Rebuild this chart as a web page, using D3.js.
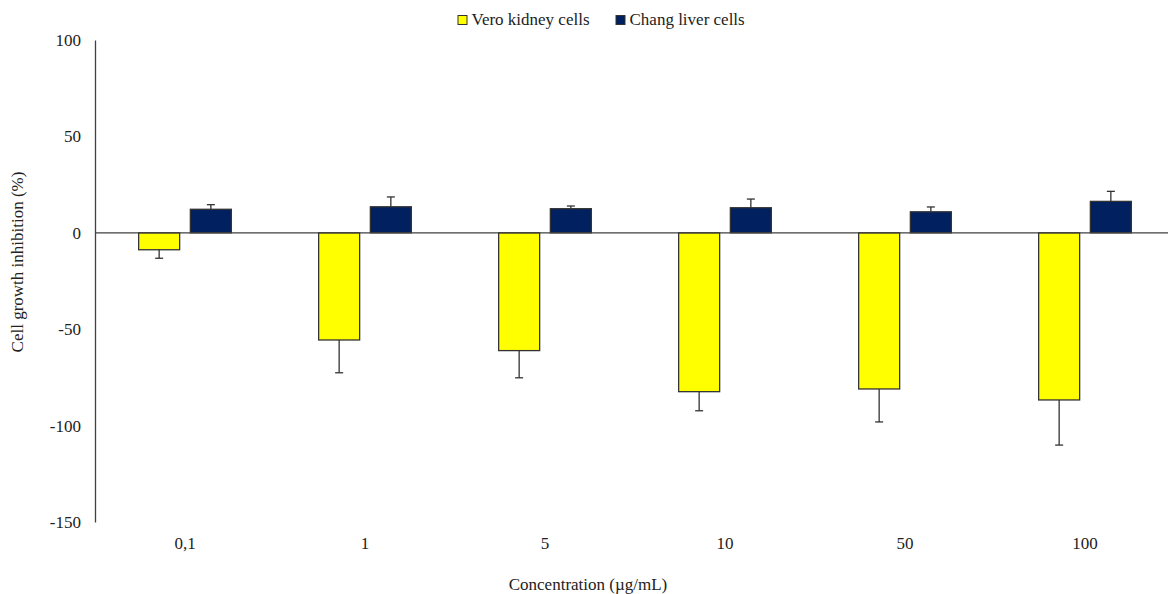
<!DOCTYPE html>
<html>
<head>
<meta charset="utf-8">
<script src="https://cdn.jsdelivr.net/npm/d3@7"></script>
<style>
  html, body { margin: 0; padding: 0; background: #fff; }
  svg { display: block; }
  svg text { font-family: "Liberation Serif", "Times New Roman", "DejaVu Serif", serif !important; fill: #222; }
</style>
</head>
<body>
<svg id="chart" width="1168" height="594"></svg>
<script>
const categories = ["0,1", "1", "5", "10", "50", "100"];
const seriesNames = ["Vero kidney cells", "Chang liver cells"];
const veroValues = [-8.8, -55.6, -61.1, -82.4, -81.0, -86.7];
const veroErrors = [4.4, 17.0, 14.1, 9.9, 17.1, 23.4];
const changValues = [12.2, 13.5, 12.5, 13.0, 10.9, 16.3];
const changErrors = [2.4, 5.1, 1.4, 4.5, 2.5, 5.2];
const yTicks = [100, 50, 0, -50, -100, -150];
const colors = ["#FFFF00", "#002060"];

const svg = d3.select("#chart");
const mLeft = 95, mRight = 1175, mTop = 40, mBottom = 522;
const serif = '"Liberation Serif", "Times New Roman", serif';

const y = d3.scaleLinear().domain([-150, 100]).range([mBottom, mTop]);
const pi = 0.485;
const x0 = d3.scaleBand().domain(categories).range([mLeft, mRight])
  .paddingInner(pi).paddingOuter(pi / 2);
const x1 = d3.scaleBand().domain(seriesNames).range([0, x0.bandwidth()])
  .paddingInner(0.207).paddingOuter(0);

const data = categories.map((c, i) => ({
  cat: c,
  items: [
    { s: seriesNames[0], v: veroValues[i], e: veroErrors[i], col: colors[0] },
    { s: seriesNames[1], v: changValues[i], e: changErrors[i], col: colors[1] }
  ]
}));

// Y axis
const yAxis = d3.axisLeft(y).tickValues(yTicks).tickSize(0).tickPadding(14)
  .tickFormat(d3.format("d"));
const gy = svg.append("g").attr("transform", `translate(${mLeft},0)`).call(yAxis)
  .attr("font-family", serif);
gy.select(".domain").attr("stroke", "#404040").attr("stroke-width", 1.3);
gy.selectAll("text").attr("font-size", 17).style("font-family", serif)
  .attr("fill", "#222").text(d => d < 0 ? "-" + Math.abs(d) : d);

// Bars
const groups = svg.append("g").selectAll("g").data(data).join("g")
  .attr("transform", d => `translate(${x0(d.cat)},0)`);

groups.selectAll("rect").data(d => d.items).join("rect")
  .attr("x", d => x1(d.s))
  .attr("width", x1.bandwidth())
  .attr("y", d => y(Math.max(0, d.v)))
  .attr("height", d => Math.abs(y(d.v) - y(0)))
  .attr("fill", d => d.col)
  .attr("stroke", "#333")
  .attr("stroke-width", 1.3);

// Error bars (one-sided, away from zero)
const eb = groups.selectAll("g.err").data(d => d.items).join("g").attr("class", "err");
eb.append("line")
  .attr("x1", d => x1(d.s) + x1.bandwidth() / 2)
  .attr("x2", d => x1(d.s) + x1.bandwidth() / 2)
  .attr("y1", d => y(d.v))
  .attr("y2", d => y(d.v + Math.sign(d.v) * d.e))
  .attr("stroke", "#333").attr("stroke-width", 1.3);
eb.append("line")
  .attr("x1", d => x1(d.s) + x1.bandwidth() / 2 - 4)
  .attr("x2", d => x1(d.s) + x1.bandwidth() / 2 + 4)
  .attr("y1", d => y(d.v + Math.sign(d.v) * d.e))
  .attr("y2", d => y(d.v + Math.sign(d.v) * d.e))
  .attr("stroke", "#333").attr("stroke-width", 1.3);

// Zero line (x axis)
const xAxis = d3.axisBottom(x0).tickSize(0).tickPadding(0);
const gx = svg.append("g").attr("transform", `translate(0,${y(0)})`).call(xAxis);
gx.select(".domain").attr("stroke", "#404040").attr("stroke-width", 1.3)
  .attr("d", `M${mLeft},0H${mRight}`);
gx.selectAll("text").remove();

// Category labels at bottom
svg.append("g").selectAll("text").data(categories).join("text")
  .attr("x", d => x0(d) + x0.bandwidth() / 2)
  .attr("y", 549)
  .attr("text-anchor", "middle")
  .attr("font-size", 17)
  .style("font-family", serif)
  .text(d => d);

// Axis titles
svg.append("text").attr("x", 588).attr("y", 590).attr("text-anchor", "middle")
  .attr("font-size", 17).style("font-family", serif).text("Concentration (µg/mL)");
svg.append("text").attr("transform", "translate(23,262) rotate(-90)")
  .attr("text-anchor", "middle").attr("font-size", 17).style("font-family", serif)
  .text("Cell growth inhibition (%)");

// Legend
const legendX = [458, 616];
const lg = svg.append("g").selectAll("g").data(seriesNames).join("g")
  .attr("transform", (d, i) => `translate(${legendX[i]},15.5)`);
lg.append("rect").attr("width", 9).attr("height", 9)
  .attr("fill", (d, i) => colors[i]).attr("stroke", "#333").attr("stroke-width", 1);
lg.append("text").attr("x", 13.5).attr("y", 9.5).attr("font-size", 17)
  .style("font-family", serif).text(d => d);
</script>
</body>
</html>
